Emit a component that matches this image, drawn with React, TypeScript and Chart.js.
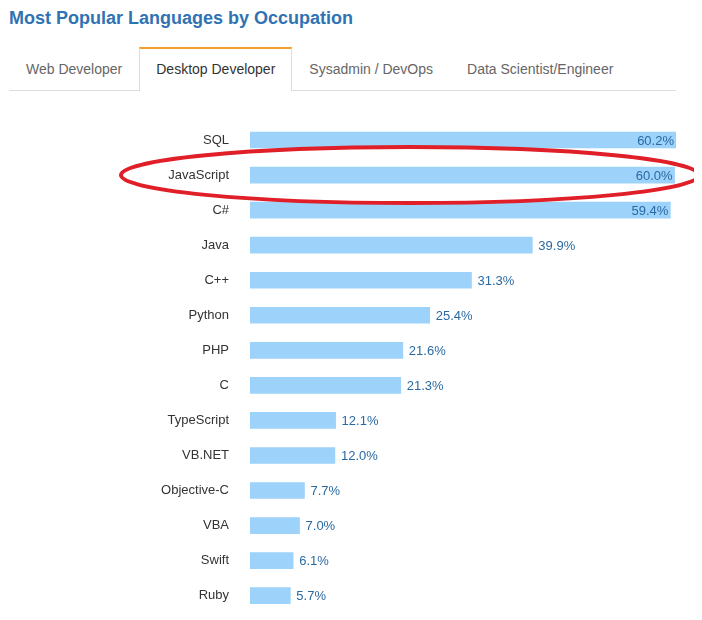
import React, { useEffect, useRef } from "react";
import { Chart, registerables } from "chart.js";

Chart.register(...registerables);

const TITLE = "Most Popular Languages by Occupation";
const TABS = ["Web Developer", "Desktop Developer", "Sysadmin / DevOps", "Data Scientist/Engineer"];
const ACTIVE_TAB = 1;

const languages = [
  "SQL", "JavaScript", "C#", "Java", "C++", "Python", "PHP", "C",
  "TypeScript", "VB.NET", "Objective-C", "VBA", "Swift", "Ruby",
];
const percents = [60.2, 60.0, 59.4, 39.9, 31.3, 25.4, 21.6, 21.3, 12.1, 12.0, 7.7, 7.0, 6.1, 5.7];
const highlighted = "JavaScript";

const FONT = "'Liberation Sans', Arial, Helvetica, sans-serif";
const CANVAS_H = 642;

const valueLabels = {
  id: "valueLabels",
  afterDatasetsDraw(chart: any) {
    const { ctx, chartArea } = chart;
    const meta = chart.getDatasetMeta(0);
    ctx.save();
    ctx.font = `13px ${FONT}`;
    ctx.textBaseline = "middle";
    ctx.fillStyle = "#2a6aa3";
    meta.data.forEach((bar: any, i: number) => {
      const text = percents[i].toFixed(1) + "%";
      const w = ctx.measureText(text).width;
      const y = bar.y + 1;
      if (bar.x + 6 + w > chartArea.right) {
        ctx.textAlign = "right";
        ctx.fillText(text, bar.x - 2, y);
      } else {
        ctx.textAlign = "left";
        ctx.fillText(text, bar.x + 6, y);
      }
    });
    ctx.restore();
  },
};

const ellipsePlugin = {
  id: "ellipseMark",
  afterDraw(chart: any) {
    const { ctx } = chart;
    const idx = languages.indexOf(highlighted);
    const cy = chart.scales.y.getPixelForValue(idx);
    ctx.save();
    ctx.strokeStyle = "#e01f28";
    ctx.lineWidth = 4;
    ctx.beginPath();
    ctx.ellipse(410, cy, 289, 28, 0, 0, Math.PI * 2);
    ctx.stroke();
    ctx.restore();
  },
};

function ChartView() {
  const ref = useRef<HTMLCanvasElement>(null);
  useEffect(() => {
    if (!ref.current) return;
    const chart = new Chart(ref.current, {
      type: "bar",
      data: {
        labels: languages,
        datasets: [
          {
            data: percents,
            backgroundColor: "#9dd2fa",
            barThickness: 16,
            borderWidth: 0,
          },
        ],
      },
      options: {
        indexAxis: "y",
        animation: false,
        responsive: false,
        maintainAspectRatio: false,
        layout: { padding: { top: 122.5, bottom: 0, right: 26, left: 0 } },
        plugins: { legend: { display: false }, tooltip: { enabled: false } },
        scales: {
          x: { display: false, min: 0, max: 60.2 },
          y: {
            grid: { display: false, drawTicks: false },
            border: { display: false },
            ticks: {
              color: "#333333",
              font: { family: FONT, size: 13 },
              padding: 21,
            },
            afterFit(scale: any) {
              scale.width = 250;
            },
          },
        },
      },
      plugins: [valueLabels, ellipsePlugin],
    });
    return () => chart.destroy();
  }, []);
  return (
    <canvas
      ref={ref}
      width={702}
      height={CANVAS_H}
      style={{ position: "absolute", left: 0, top: 0, width: 702, height: CANVAS_H, pointerEvents: "none" }}
    />
  );
}

export default function App() {
  return (
    <div style={{ position: "relative", width: 694, height: 604, fontFamily: FONT }}>
      <div
        style={{
          position: "absolute",
          left: 1,
          top: 0,
          fontSize: 18,
          fontWeight: "bold",
          color: "#2f73b3",
          lineHeight: "21px",
        }}
      >
        {TITLE}
      </div>
      <div
        style={{
          position: "absolute",
          left: 1,
          top: 39,
          width: 667,
          height: 43,
          borderBottom: "1px solid #dddddd",
          display: "flex",
        }}
      >
        {TABS.map((t, i) => (
          <div
            key={t}
            style={{
              padding: "0 16px",
              height: i === ACTIVE_TAB ? 44 : 43,
              lineHeight: "41px",
              fontSize: 14,
              color: i === ACTIVE_TAB ? "#333333" : "#666666",
              background: "#ffffff",
              boxSizing: "border-box",
              borderTop: i === ACTIVE_TAB ? "2px solid #f0a12b" : "2px solid transparent",
              borderLeft: i === ACTIVE_TAB ? "1px solid #dddddd" : "1px solid transparent",
              borderRight: i === ACTIVE_TAB ? "1px solid #dddddd" : "1px solid transparent",
              position: "relative",
              whiteSpace: "nowrap",
            }}
          >
            {t}
          </div>
        ))}
      </div>
      <div
        style={{
          position: "absolute",
          left: -8,
          top: -8,
          width: 702,
          height: 620,
          overflow: "hidden",
          pointerEvents: "none",
        }}
      >
        <ChartView />
      </div>
    </div>
  );
}
